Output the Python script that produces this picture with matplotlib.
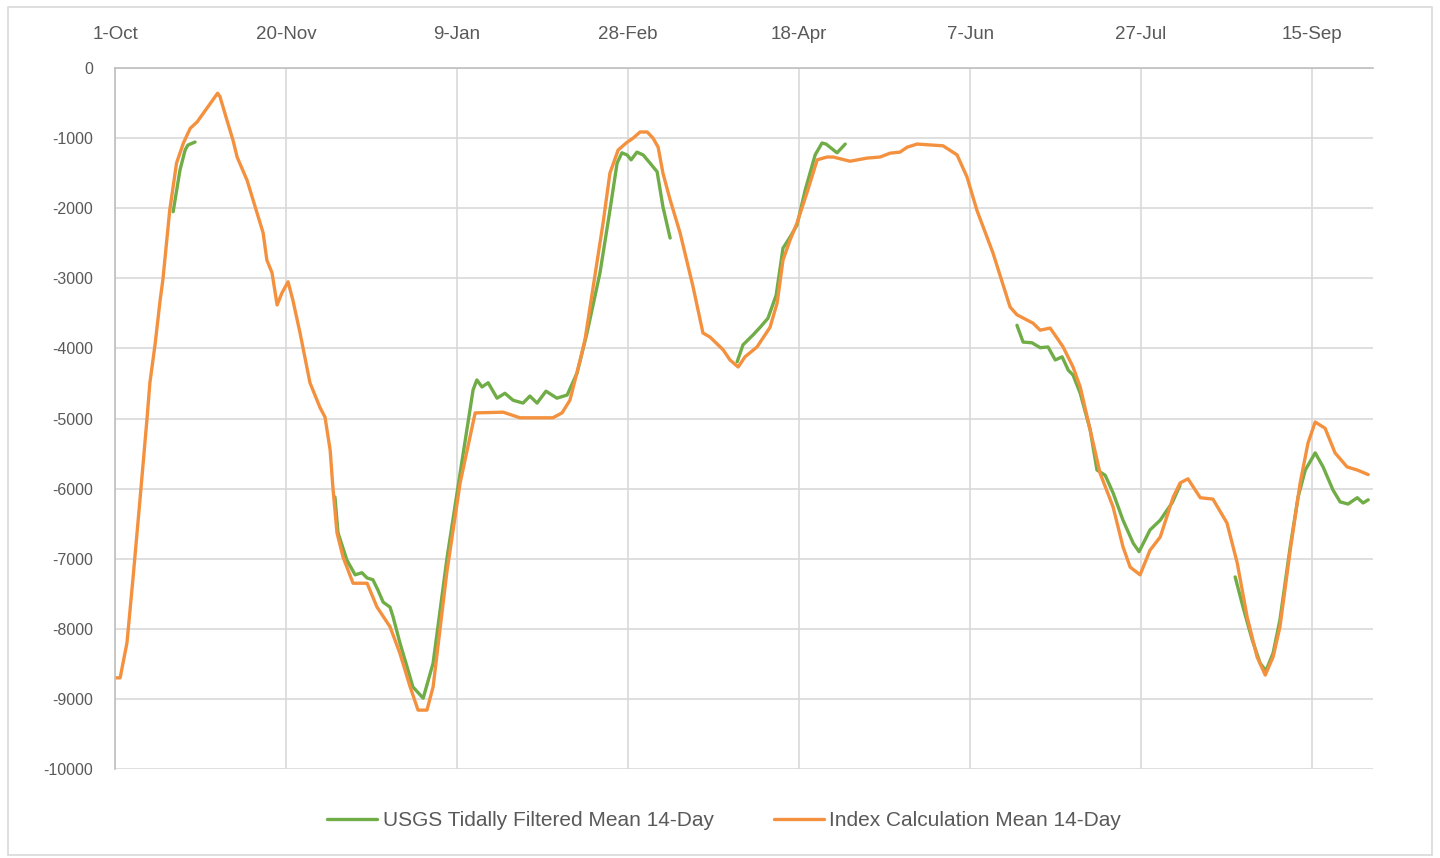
import matplotlib
matplotlib.use("Agg")
import matplotlib.pyplot as plt
import matplotlib.dates as mdates
import matplotlib.patches as patches
import numpy as np
import pandas as pd

# days after 1-Oct
start = pd.Timestamp("2019-10-01")

index_days = [0, 1.5, 3.5, 5.3, 7.3, 9.4, 10.2, 11.7, 13.2, 14, 16, 18, 20, 22, 24, 30, 30.7,
              32.7, 34.5, 35.7, 38.6, 43.3, 44.4, 45.9, 47.4, 48.8, 50.6, 52, 54.1, 57, 59.9,
              61.4, 62.9, 63.7, 64.9, 66.7, 69.6, 73.7, 76.6, 80.4, 83.3, 86.3, 88.6, 91.2, 93,
              97, 100.9, 105.3, 113.5, 118.4, 128, 130.7, 133, 136, 137.4, 139.8, 142.7, 144.7,
              147.1, 149.7, 151.5, 153.5, 155.6, 157.3, 158.8, 160.2, 162.3, 165.2, 169, 171.9,
              174, 177.8, 179.8, 182.2, 184.2, 187.7, 191.5, 193.6, 195.3, 197.4, 199.4, 202.3,
              205.3, 208.2, 210, 214.9, 219.9, 223.7, 226.6, 229.5, 231.6, 234.5, 242.1, 246.2,
              249.1, 252, 256.7, 261.7, 263.7, 268.4, 270.5, 273.4, 275.4, 277.2, 280.1, 282.2,
              285.1, 288, 291.8, 294.7, 296.8, 299.7, 302.6, 305.6, 309.4, 311.4, 313.7, 317.3,
              321, 325.1, 328.1, 331, 333.9, 336.3, 338.6, 340.6, 343.6, 346.5, 348.8, 350.9,
              353.8, 356.7, 360.2, 363.2, 366.4]
index_vals = [-8700, -8700, -8200, -7260, -6160, -4980, -4490, -3950, -3310, -3020, -2030, -1355,
              -1070, -860, -770, -360, -410, -740, -1030, -1270, -1600, -2350, -2740, -2920, -3380,
              -3210, -3050, -3310, -3780, -4490, -4840, -4980, -5450, -5980, -6630, -6980, -7350,
              -7350, -7690, -7970, -8350, -8830, -9160, -9160, -8830, -7200, -5920, -4920, -4910,
              -4990, -4990, -4920, -4740, -4165, -3880, -3120, -2210, -1500, -1170, -1060, -1000,
              -913, -913, -1000, -1130, -1500, -1880, -2350, -3120, -3780, -3840, -4020, -4165,
              -4265, -4120, -3980, -3700, -3350, -2740, -2450, -2210, -1780, -1310, -1270, -1270,
              -1330, -1285, -1270, -1215, -1200, -1130, -1085, -1110, -1240, -1555, -2030, -2640,
              -3410, -3520, -3640, -3740, -3710, -3850, -3980, -4265, -4550, -5160, -5780, -6260,
              -6830, -7120, -7230, -6880, -6690, -6120, -5920, -5860, -6130, -6150, -6490, -7060,
              -7830, -8400, -8660, -8400, -7970, -6880, -5920, -5350, -5050, -5140, -5490, -5690,
              -5735, -5800]

# USGS series has gaps (nan breaks the line)
usgs_days = [17, 19, 20.5, 21.3, 23.4, np.nan,
             64.3, 65.2, 67.8, 70.2, 72.2, 73.7, 75.4, 76.9, 78.4, 80.4, 81.3, 83.3, 85.4, 87.1,
             90.1, 93, 97.1, 100.9, 104.7, 105.8, 107.3, 109.1, 111.7, 114, 116.4, 119.3, 121.3,
             123.4, 126, 129.2, 132.2, 135.1, 138, 141.8, 144.7, 146.8, 148.2, 149.7, 150.9,
             152.6, 154.4, 156.4, 158.5, 160.2, 162.3, np.nan,
             181.9, 183.6, 186.5, 188.6, 190.9, 193.3, 195.3, 197.4, 199.4, 201.8, 204.7, 206.7,
             207.9, 211.1, 213.5, np.nan,
             263.7, 265.5, 268.1, 270.5, 272.8, 274.9, 276.9, 278.7, 280.1, 282.2, 285.1, 287.1,
             289.5, 291.8, 294.7, 297.7, 299.4, 302.6, 305.6, 309.1, 311.4, np.nan,
             327.5, 329.8, 332.5, 334.8, 336.5, 338.6, 340.6, 343.6, 345.9, 348, 350.9, 353.2,
             356.1, 358.2, 360.5, 363.2, 364.9, 366.4]
usgs_vals = [-2050, -1455, -1170, -1100, -1056, np.nan,
             -6120, -6630, -7020, -7230, -7200, -7275, -7300, -7450, -7620, -7690, -7830, -8200,
             -8545, -8830, -8990, -8490, -6980, -5780, -4590, -4450, -4550, -4490, -4710, -4640,
             -4740, -4780, -4680, -4780, -4610, -4710, -4665, -4350, -3780, -2920, -2030, -1355,
             -1210, -1240, -1310, -1200, -1240, -1355, -1480, -1980, -2425, np.nan,
             -4190, -3950, -3810, -3700, -3570, -3240, -2570, -2410, -2240, -1740, -1240, -1070,
             -1085, -1210, -1085, np.nan,
             -3670, -3910, -3920, -3990, -3980, -4165, -4120, -4310, -4380, -4640, -5160, -5735,
             -5810, -6060, -6450, -6780, -6900, -6590, -6450, -6200, -5950, np.nan,
             -7260, -7690, -8160, -8490, -8600, -8345, -7870, -6830, -6120, -5735, -5490, -5690,
             -6020, -6190, -6220, -6130, -6205, -6160]

tick_days = [0, 50, 100, 150, 200, 250, 300, 350]
y_ticks = list(range(-10000, 1, 1000))

green = "#70AD47"
orange = "#F4913F"
text_grey = "#595959"
grid_grey = "#D9D9D9"

index_dates = start + pd.to_timedelta(index_days, unit="D")
usgs_dates = start + pd.to_timedelta(np.nan_to_num(usgs_days, nan=0), unit="D")

plt.rcParams["font.family"] = ["Liberation Sans", "DejaVu Sans"]
plt.rcParams["axes.unicode_minus"] = False

fig = plt.figure(figsize=(14.4, 8.58), dpi=100)
ax = fig.add_axes([115 / 1440, 1 - 769 / 858, (1373 - 115) / 1440, (769 - 68) / 858])

ax.plot(usgs_dates, usgs_vals, color=green, lw=2.4, label="USGS Tidally Filtered Mean 14-Day",
        solid_capstyle="round", solid_joinstyle="round")
ax.plot(index_dates, index_vals, color=orange, lw=2.4, label="Index Calculation Mean 14-Day",
        solid_capstyle="round", solid_joinstyle="round")

ax.set_ylim(-10000, 0)
ax.set_yticks(y_ticks)
ax.set_xlim(start, start + pd.Timedelta(days=367.8))
ax.set_xticks(start + pd.to_timedelta(tick_days, unit="D"))
ax.xaxis.set_major_formatter(mdates.DateFormatter("%-d-%b"))
ax.xaxis.tick_top()

ax.grid(True, color=grid_grey, lw=1.2)
ax.set_axisbelow(True)
ax.tick_params(axis="both", length=0, labelcolor=text_grey)
ax.tick_params(axis="x", pad=18, labelsize=13.5)
ax.tick_params(axis="y", pad=15.5, labelsize=11.5)
for side in ["right", "bottom"]:
    ax.spines[side].set_visible(False)
for side in ["top", "left"]:
    ax.spines[side].set_color("#BFBFBF")
    ax.spines[side].set_linewidth(1.2)

fig.legend(loc="center", bbox_to_anchor=(0.503, 1 - 821 / 858), ncol=2, frameon=False,
           fontsize=15, handlelength=2.4, handletextpad=0.25, columnspacing=2.9,
           labelcolor=text_grey)

fig.patches.append(patches.Rectangle((8 / 1440, 3 / 858), 1424 / 1440, 848 / 858,
                                     transform=fig.transFigure, fill=False,
                                     edgecolor=grid_grey, lw=1.2))

fig.savefig("out.png", dpi=100, facecolor="white")
